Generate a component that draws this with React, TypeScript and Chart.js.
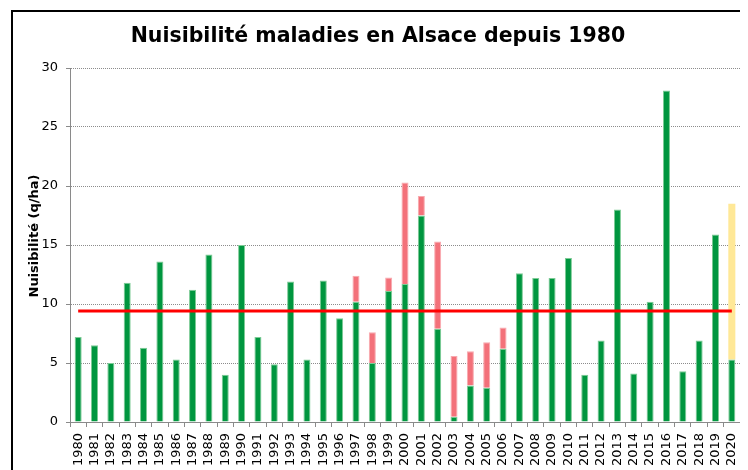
import React, { useEffect, useRef } from "react";
import { Chart, registerables } from "chart.js";

Chart.register(...registerables);

const years = [
  "1980", "1981", "1982", "1983", "1984", "1985", "1986", "1987", "1988", "1989",
  "1990", "1991", "1992", "1993", "1994", "1995", "1996", "1997", "1998", "1999",
  "2000", "2001", "2002", "2003", "2004", "2005", "2006", "2007", "2008", "2009",
  "2010", "2011", "2012", "2013", "2014", "2015", "2016", "2017", "2018", "2019",
  "2020",
];

// green part of each bar (q/ha)
const nuisibiliteBase = [
  7.2, 6.5, 5.0, 11.8, 6.3, 13.6, 5.3, 11.2, 14.2, 4.0,
  15.0, 7.2, 4.9, 11.9, 5.3, 12.0, 8.8, 10.2, 5.0, 11.1,
  11.7, 17.5, 7.9, 0.45, 3.1, 2.9, 6.2, 12.6, 12.2, 12.2,
  13.9, 4.0, 6.9, 18.0, 4.1, 10.2, 28.1, 4.3, 6.9, 15.9,
  5.3,
];

// pink part stacked on top (q/ha)
const nuisibiliteSupp = [
  0, 0, 0, 0, 0, 0, 0, 0, 0, 0,
  0, 0, 0, 0, 0, 0, 0, 2.2, 2.6, 1.15,
  8.6, 1.65, 7.4, 5.15, 2.9, 3.85, 1.8, 0, 0, 0,
  0, 0, 0, 0, 0, 0, 0, 0, 0, 0,
  0,
];

// yellow part stacked on top (q/ha)
const nuisibiliteEstimee = [
  0, 0, 0, 0, 0, 0, 0, 0, 0, 0,
  0, 0, 0, 0, 0, 0, 0, 0, 0, 0,
  0, 0, 0, 0, 0, 0, 0, 0, 0, 0,
  0, 0, 0, 0, 0, 0, 0, 0, 0, 0,
  13.2,
];

const moyenne = 9.4;

const yTicks = { min: 0, max: 30, step: 5 };

const yTitleText = "Nuisibilité (q/ha)";

const yTitlePlugin = {
  id: "yTitle",
  afterDraw(chart: any) {
    const { ctx, chartArea } = chart;
    ctx.save();
    ctx.font = "bold 13px 'DejaVu Sans'";
    ctx.fillStyle = "#000";
    ctx.textAlign = "center";
    ctx.textBaseline = "middle";
    ctx.translate(19, (chartArea.top + chartArea.bottom) / 2 - 9);
    ctx.rotate(-Math.PI / 2);
    ctx.fillText(yTitleText, 0, 0);
    ctx.restore();
  },
};

export default function App() {
  const ref = useRef<HTMLCanvasElement>(null);

  useEffect(() => {
    if (!ref.current) return;
    const axisGray = "#8a8a8a";
    const chart = new Chart(ref.current, {
      type: "bar",
      data: {
        labels: years,
        datasets: [
          {
            type: "line",
            label: "Moyenne",
            data: years.map(() => moyenne),
            borderColor: "#FF0000",
            borderWidth: 3,
            pointRadius: 0,
            fill: false,
            order: 0,
          } as any,
          {
            type: "bar",
            label: "Nuisibilité",
            data: nuisibiliteBase,
            backgroundColor: "#00963F",
            borderColor: "#7ccb95",
            borderWidth: { left: 1, right: 1, top: 1, bottom: 0 },
            borderSkipped: false,
            stack: "s",
            order: 1,
          },
          {
            type: "bar",
            label: "Supplément",
            data: nuisibiliteSupp,
            backgroundColor: "#F3717A",
            borderColor: "#f8a9ae",
            borderWidth: { left: 1, right: 1, top: 1, bottom: 0 },
            borderSkipped: false,
            stack: "s",
            order: 1,
          },
          {
            type: "bar",
            label: "Estimation",
            data: nuisibiliteEstimee,
            backgroundColor: "#FFE897",
            borderColor: "#fff0bd",
            borderWidth: 0,
            stack: "s",
            order: 1,
          },
        ],
      },
      options: {
        animation: false,
        responsive: false,
        layout: { padding: 0 },
        datasets: {
          bar: { barPercentage: 0.43, categoryPercentage: 1 },
        },
        plugins: {
          legend: { display: false },
          tooltip: { enabled: false },
          title: {
            display: true,
            text: "Nuisibilité maladies en Alsace depuis 1980",
            color: "#000",
            font: { family: "DejaVu Sans", size: 20.5, weight: "bold" },
            padding: { top: 12.7, bottom: 18.7 },
          },
        },
        scales: {
          x: {
            stacked: true,
            offset: true,
            grid: {
              display: true,
              drawOnChartArea: false,
              drawTicks: true,
              tickLength: 5,
              tickColor: axisGray,
              offset: true,
            },
            border: { display: true, color: axisGray, width: 1 },
            ticks: {
              autoSkip: false,
              minRotation: 90,
              maxRotation: 90,
              padding: 6,
              color: "#000",
              font: { family: "DejaVu Sans", size: 13 },
            },
            afterFit: (s: any) => {
              s.height = 70;
              s.paddingLeft = 0;
              s.paddingRight = 0;
            },
          },
          y: {
            stacked: true,
            min: yTicks.min,
            max: yTicks.max,
            ticks: {
              stepSize: yTicks.step,
              padding: 8,
              color: "#000",
              font: { family: "DejaVu Sans", size: 13 },
            },
            grid: {
              color: "#8c8c8c",
              lineWidth: 1,
              tickLength: 4,
              tickColor: axisGray,
              tickBorderDash: [],
            },
            border: { display: true, color: axisGray, width: 1, dash: [1, 1] },
            title: { display: false },
            afterFit: (s: any) => {
              s.width = 54;
            },
          },
        },
      } as any,
      plugins: [yTitlePlugin],
    });
    return () => chart.destroy();
  }, []);

  return (
    <div
      style={{
        position: "relative",
        left: 3,
        top: 2,
        width: 760,
        height: 500,
        border: "2px solid #000",
      }}
    >
      <canvas
        ref={ref}
        width={724}
        height={480}
        style={{ position: "absolute", left: 3, top: 0, width: 724, height: 480 }}
      />
    </div>
  );
}
